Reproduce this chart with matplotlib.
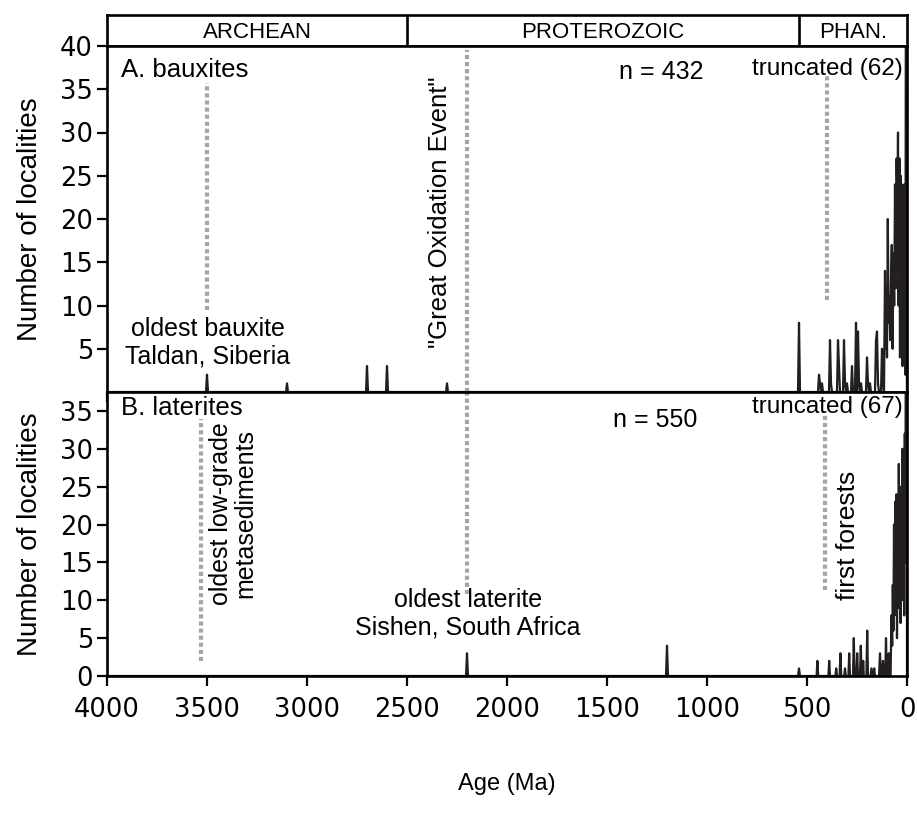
import numpy as np
import matplotlib.pyplot as plt

plt.rcParams['font.family'] = ['Liberation Sans', 'DejaVu Sans']

# eon boundaries (Ma)
eon_names = ['ARCHEAN', 'PROTEROZOIC', 'PHAN.']
eon_edges = [4000, 2500, 541, 0]

# A. bauxites: age (Ma) and number of localities
baux_age = [4000, 3505, 3500, 3495, 3105, 3100, 3095, 2705, 2700, 2695, 2605, 2600, 2595,
            2305, 2300, 2295, 545, 540, 535, 445, 440, 435, 430, 425, 420, 390, 385, 380,
            375, 350, 345, 340, 335, 320, 315, 310, 305, 300, 295, 280, 275, 270, 260, 255,
            250, 245, 240, 235, 230, 225, 205, 200, 195, 190, 185, 180, 160, 155, 150, 145,
            140, 130, 125, 120, 115, 110, 107, 104, 100, 96, 92, 88, 84, 80, 76, 72, 68, 64,
            60, 56, 52, 48, 45, 42, 38, 35, 32, 28, 25, 22, 18, 15, 12, 8, 5, 2, 0]
baux_n = [0, 0, 2, 0, 0, 1, 0, 0, 3, 0, 0, 3, 0,
          0, 1, 0, 0, 8, 0, 0, 2, 1, 0, 1, 0, 0, 6, 1,
          0, 0, 6, 3, 0, 0, 6, 1, 0, 1, 0, 0, 3, 0, 0, 8,
          0, 7, 1, 0, 1, 0, 0, 4, 1, 0, 1, 0, 0, 6, 7, 1,
          0, 0, 5, 1, 0, 14, 5, 12, 4, 20, 8, 11, 6, 13, 17, 5, 16, 10,
          24, 12, 27, 20, 30, 10, 27, 4, 25, 8, 24, 3, 20, 12, 24, 2, 62, 5, 0]

# B. laterites
lat_age = [4000, 2205, 2200, 2195, 1205, 1200, 1195, 545, 540, 535, 452, 448, 444, 393,
           389, 385, 358, 354, 350, 337, 333, 329, 314, 310, 306, 293, 289, 285, 270, 266,
           262, 253, 249, 245, 235, 231, 227, 222, 219, 216, 203, 199, 195, 182, 178, 168,
           164, 160, 140, 135, 130, 124, 120, 116, 109, 105, 101, 95, 91, 87, 82, 78, 74,
           71, 68, 65, 62, 59, 56, 53, 50, 47, 44, 41, 38, 35, 32, 29, 26, 23, 20, 17, 14,
           11, 8, 5, 3, 1, 0]
lat_n = [0, 0, 3, 0, 0, 4, 0, 0, 1, 0, 0, 2, 0, 0,
         2, 0, 0, 1, 0, 0, 3, 0, 0, 1, 0, 0, 3, 0, 0, 5,
         0, 0, 3, 0, 0, 4, 0, 0, 2, 0, 0, 6, 0, 0, 1, 0,
         1, 0, 0, 3, 0, 0, 2, 0, 0, 5, 0, 0, 3, 0, 0, 8, 4,
         12, 6, 20, 8, 23, 10, 24, 5, 22, 9, 28, 14, 18, 7, 25, 10, 30, 12, 25, 8,
         32, 15, 67, 20, 38, 0]

# dotted reference lines: (age, y from, y to)
a_marks = [(3500, 9.5, 35.7), (2200, 0, 39.5), (400, 10.6, 36.6)]
b_marks = [(3530, 2, 34), (2200, 10.8, 37.5), (410, 11.4, 35)]

W, H = 917, 817
fig = plt.figure(figsize=(W / 100, H / 100), dpi=100)
left, right = 107 / W, 907 / W
ax_e = fig.add_axes([left, 1 - 46 / H, right - left, 31 / H])
ax_a = fig.add_axes([left, 1 - 392 / H, right - left, 346 / H])
ax_b = fig.add_axes([left, 1 - 676 / H, right - left, 284 / H])

lw_sp = 1.9
for ax in (ax_e, ax_a, ax_b):
    for s in ax.spines.values():
        s.set_linewidth(lw_sp)
    ax.set_xlim(4000, 0)

# eon band
ax_e.set_ylim(0, 1)
ax_e.set_xticks([])
ax_e.set_yticks([])
for i, name in enumerate(eon_names):
    mid = (eon_edges[i] + eon_edges[i + 1]) / 2
    ax_e.text(mid, 0.45, name, ha='center', va='center', fontsize=16)
    if i > 0:
        ax_e.axvline(eon_edges[i], color='black', lw=lw_sp)

gray = '#a6a6a6'
ink = '#231f20'
fs = 18
tick_font = {'family': 'DejaVu Sans', 'size': 18.5}

# panel A
ax_a.plot(baux_age, baux_n, color=ink, lw=1.6)
ax_a.set_ylim(0, 40)
ax_a.set_yticks(range(5, 41, 5))
ax_a.set_xticks(range(0, 4001, 500))
ax_a.tick_params(axis='x', labelbottom=False, direction='out', length=7, width=1.6)
for x, y0, y1 in a_marks:
    ax_a.plot([x, x], [y0, y1], color=gray, lw=3, ls=(0, (1, 0.7)))
ax_a.text(0.018, 0.965, 'A. bauxites', transform=ax_a.transAxes, fontsize=18.5, va='top')
ax_a.text(1230, 37.0, 'n = 432', ha='center', va='center', fontsize=18)
ax_a.text(0.995, 0.965, 'truncated (62)', transform=ax_a.transAxes, ha='right', va='top',
          fontsize=17.5)
ax_a.text(3495, 5.7, 'oldest bauxite\nTaldan, Siberia', ha='center', va='center', fontsize=fs,
          linespacing=1.15)
ax_a.text(2335, 20.8, '"Great Oxidation Event"', rotation=90, ha='center', va='center',
          fontsize=18.5)
ax_a.set_ylabel('Number of localities', fontsize=20, labelpad=12)

# panel B
ax_b.plot(lat_age, lat_n, color=ink, lw=1.6)
ax_b.set_ylim(0, 37.5)
ax_b.set_yticks(range(0, 36, 5))
ax_b.set_xticks(range(0, 4001, 500))
ax_b.tick_params(axis='x', direction='out', length=7, width=1.6, pad=8)
for x, y0, y1 in b_marks:
    ax_b.plot([x, x], [y0, y1], color=gray, lw=3, ls=(0, (1, 0.7)))
ax_b.text(0.018, 0.985, 'B. laterites', transform=ax_b.transAxes, fontsize=18.5, va='top')
ax_b.text(1260, 33.8, 'n = 550', ha='center', va='center', fontsize=18)
ax_b.text(0.995, 0.985, 'truncated (67)', transform=ax_b.transAxes, ha='right', va='top',
          fontsize=17.5)
ax_b.text(3370, 21.5, 'oldest low-grade\nmetasediments', rotation=90, ha='center', va='center',
          fontsize=fs, linespacing=1.05)
ax_b.text(2195, 8.2, 'oldest laterite\nSishen, South Africa', ha='center', va='center',
          fontsize=fs, linespacing=1.15)
ax_b.text(295, 18.6, 'first forests', rotation=90, ha='center', va='center', fontsize=19)
ax_b.set_ylabel('Number of localities', fontsize=20, labelpad=12)
ax_b.set_xlabel('Age (Ma)', fontsize=17, labelpad=36)

for ax in (ax_a, ax_b):
    ax.tick_params(axis='y', direction='out', length=7, width=1.6, pad=3)
    for lab in ax.get_xticklabels() + ax.get_yticklabels():
        lab.set_fontproperties(tick_font)

fig.savefig('out.png', dpi=100)
